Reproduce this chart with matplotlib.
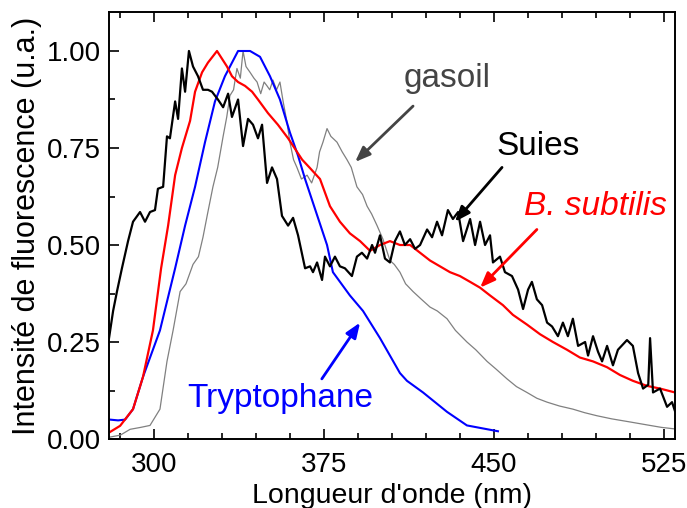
import matplotlib
matplotlib.use("Agg")
import matplotlib.pyplot as plt
from matplotlib.ticker import MultipleLocator

plt.rcParams["font.family"] = ["Liberation Sans", "DejaVu Sans"]

# Suies (soot) - black
suies_x = [280.0, 281.8, 283.5, 285.7, 288.4, 290.6, 293.7, 295.9, 298.1, 300.3,
           301.6, 303.9, 305.6, 306.9, 309.2, 310.5, 312.2, 313.6, 315.3, 317.1,
           319.3, 321.5, 323.7, 325.5, 328.1, 330.4, 332.6, 334.3, 337.0, 339.2,
           341.4, 343.6, 345.8, 347.6, 349.8, 352.0, 354.2, 356.4, 359.1, 361.3,
           363.5, 366.6, 368.8, 370.1, 371.9, 374.1, 375.4, 377.6, 379.8, 382.0,
           384.2, 387.3, 389.5, 391.7, 394.0, 396.2, 397.5, 399.7, 401.9, 404.1,
           406.3, 408.5, 410.7, 413.0, 415.2, 417.4, 420.5, 422.7, 424.9, 427.1,
           429.7, 431.9, 434.2, 436.4, 439.5, 441.7, 443.9, 446.1, 448.3, 449.6,
           452.7, 454.9, 458.0, 460.7, 462.9, 465.1, 466.8, 469.0, 471.3, 473.5,
           475.7, 478.3, 480.5, 482.7, 484.9, 487.2, 490.3, 491.6, 493.8, 496.0,
           497.8, 500.0, 502.6, 504.8, 508.8, 511.4, 513.7, 515.9, 518.2, 519.0,
           520.3, 523.4, 526.5, 528.7, 530.0]
suies_y = [0.26, 0.33, 0.38, 0.44, 0.51, 0.56, 0.585, 0.56, 0.585, 0.59,
           0.645, 0.65, 0.78, 0.775, 0.87, 0.825, 0.955, 0.895, 1.0, 0.96,
           0.935, 0.90, 0.90, 0.895, 0.875, 0.855, 0.89, 0.83, 0.875, 0.755,
           0.825, 0.81, 0.775, 0.81, 0.66, 0.70, 0.67, 0.575, 0.55, 0.57,
           0.525, 0.44, 0.445, 0.43, 0.455, 0.41, 0.47, 0.445, 0.47, 0.445,
           0.44, 0.42, 0.47, 0.48, 0.465, 0.50, 0.48, 0.525, 0.465, 0.455,
           0.51, 0.535, 0.50, 0.515, 0.49, 0.50, 0.54, 0.52, 0.56, 0.525,
           0.59, 0.567, 0.585, 0.51, 0.567, 0.50, 0.56, 0.50, 0.525, 0.455,
           0.47, 0.43, 0.42, 0.385, 0.335, 0.385, 0.405, 0.36, 0.345, 0.30,
           0.29, 0.265, 0.30, 0.265, 0.31, 0.24, 0.25, 0.215, 0.265, 0.225,
           0.20, 0.24, 0.19, 0.23, 0.255, 0.24, 0.17, 0.13, 0.14, 0.26,
           0.12, 0.13, 0.083, 0.095, 0.072]

# B. subtilis - red
bsub_x = [280.4, 284.9, 290.6, 295.0, 299.4, 303.0, 306.1, 309.2, 312.2, 315.8,
          318.0, 321.1, 323.7, 327.7, 329.9, 332.1, 334.3, 337.0, 340.1, 343.2,
          345.8, 350.2, 354.6, 359.1, 365.3, 368.5, 373.2, 377.6, 382.0, 386.4,
          390.9, 395.3, 399.7, 404.1, 408.5, 413.0, 417.4, 421.8, 426.2, 430.6,
          435.0, 439.5, 443.9, 448.3, 454.0, 458.4, 464.6, 470.4, 476.1, 482.3,
          488.0, 493.8, 500.0, 505.7, 511.4, 517.6, 523.4, 530.0]
bsub_y = [0.018, 0.034, 0.077, 0.16, 0.28, 0.44, 0.55, 0.68, 0.75, 0.82,
          0.895, 0.945, 0.97, 1.0, 0.98, 0.96, 0.935, 0.92, 0.91, 0.895,
          0.875, 0.84, 0.81, 0.775, 0.72, 0.70, 0.67, 0.60, 0.56, 0.53,
          0.51, 0.485, 0.50, 0.51, 0.50, 0.50, 0.48, 0.46, 0.445, 0.43,
          0.42, 0.405, 0.39, 0.37, 0.345, 0.32, 0.295, 0.27, 0.25, 0.23,
          0.21, 0.20, 0.185, 0.165, 0.15, 0.137, 0.13, 0.12]

# Tryptophane - blue
tryp_x = [280.4, 284.0, 287.1, 290.6, 295.0, 302.5, 309.2, 313.6, 318.0, 322.4,
          326.8, 331.2, 337.0, 342.3, 346.7, 351.1, 355.5, 359.9, 363.5, 366.6,
          376.3, 378.9, 386.4, 392.2, 399.7, 408.5, 411.6, 418.7, 429.3, 438.1,
          451.8]
tryp_y = [0.05, 0.048, 0.05, 0.077, 0.16, 0.28, 0.44, 0.55, 0.65, 0.765,
          0.87, 0.935, 1.0, 1.0, 0.985, 0.935, 0.875, 0.79, 0.73, 0.67,
          0.50, 0.43, 0.37, 0.33, 0.26, 0.17, 0.15, 0.12, 0.07, 0.035,
          0.02]

# gasoil - gray
gas_x = [280.4, 285.0, 289.3, 294.0, 298.1, 302.5, 305.6, 308.3, 311.4, 314.0,
         317.1, 319.5, 321.5, 323.5, 325.9, 328.0, 330.4, 332.0, 333.4, 335.0,
         336.5, 338.0, 339.2, 340.5, 342.3, 344.0, 345.4, 347.0, 348.5, 349.8,
         351.0, 352.4, 354.0, 355.5, 356.9, 358.5, 359.9, 361.5, 363.0, 365.0,
         367.5, 369.5, 371.9, 373.0, 374.5, 376.3, 378.0, 380.7, 383.0, 385.1,
         387.0, 389.5, 392.0, 394.0, 396.0, 398.4, 401.0, 404.1, 406.0, 408.5,
         411.0, 414.3, 418.0, 421.8, 425.0, 429.3, 433.0, 438.1, 442.0, 447.0,
         451.0, 455.8, 460.0, 464.6, 469.0, 473.5, 479.0, 484.9, 490.0, 495.5,
         502.0, 510.1, 518.0, 524.0, 530.0]
gas_y = [0.005, 0.01, 0.025, 0.03, 0.035, 0.077, 0.20, 0.28, 0.38, 0.40,
         0.45, 0.47, 0.52, 0.58, 0.65, 0.70, 0.78, 0.83, 0.885, 0.90,
         0.955, 0.93, 1.0, 0.96, 0.945, 0.93, 0.92, 0.89, 0.92, 0.91,
         0.90, 0.925, 0.90, 0.92, 0.87, 0.82, 0.765, 0.72, 0.70, 0.67,
         0.68, 0.66, 0.70, 0.74, 0.765, 0.80, 0.78, 0.765, 0.74, 0.72,
         0.70, 0.65, 0.63, 0.60, 0.58, 0.55, 0.515, 0.46, 0.45, 0.43,
         0.40, 0.38, 0.36, 0.34, 0.33, 0.31, 0.28, 0.25, 0.23, 0.20,
         0.18, 0.155, 0.135, 0.12, 0.105, 0.095, 0.085, 0.077, 0.068, 0.06,
         0.052, 0.044, 0.036, 0.03, 0.026]

fig = plt.figure(figsize=(6.87, 5.08), dpi=100)
ax = fig.add_axes([0.1587, 0.1358, 0.8238, 0.8402])

ax.plot(gas_x, gas_y, color="#808080", lw=0.9)
ax.plot(tryp_x, tryp_y, color="#0000ff", lw=1.5)
ax.plot(bsub_x, bsub_y, color="#ff0000", lw=1.6)
ax.plot(suies_x, suies_y, color="black", lw=1.6)

ax.set_xlim(280, 530)
ax.set_ylim(0, 1.1)
ax.xaxis.set_major_locator(MultipleLocator(75))
ax.xaxis.set_minor_locator(MultipleLocator(15))
ax.yaxis.set_major_locator(MultipleLocator(0.25))
ax.yaxis.set_minor_locator(MultipleLocator(0.125))
ax.yaxis.set_major_formatter(plt.FormatStrFormatter("%.2f"))
ax.tick_params(which="both", direction="in", top=True, right=False,
               labelsize=20, width=1.2)
ax.tick_params(axis="x", pad=9)
ax.tick_params(axis="y", pad=6)
ax.tick_params(which="major", length=7)
ax.tick_params(which="minor", length=4)
for s in ax.spines.values():
    s.set_linewidth(1.4)

ax.set_xlabel("Longueur d'onde (nm)", fontsize=20.5, labelpad=4)
ax.set_ylabel("Intensité de fluorescence (u.a.)", fontsize=22, labelpad=3)

def arrow(tip, start, color):
    ax.annotate("", xy=tip, xytext=start,
                arrowprops=dict(arrowstyle="-|>,head_length=0.9,head_width=0.35",
                                color=color, lw=2, shrinkA=0, shrinkB=0))

ax.text(429.3, 0.93, "gasoil", color="#444444", fontsize=24, ha="center", va="center")
arrow((388.7, 0.714), (414.3, 0.858), "#444444")
ax.text(469.5, 0.755, "Suies", color="black", fontsize=24, ha="center", va="center")
arrow((432.8, 0.56), (453.6, 0.70), "black")
ax.text(494.7, 0.60, "B. subtilis", color="red", fontsize=24, style="italic",
        ha="center", va="center")
arrow((443.9, 0.39), (469.0, 0.54), "red")
ax.text(355.5, 0.105, "Tryptophane", color="#0000ff", fontsize=24,
        ha="center", va="center")
arrow((390.9, 0.30), (374.0, 0.155), "#0000ff")

fig.savefig("out.png", dpi=100)
